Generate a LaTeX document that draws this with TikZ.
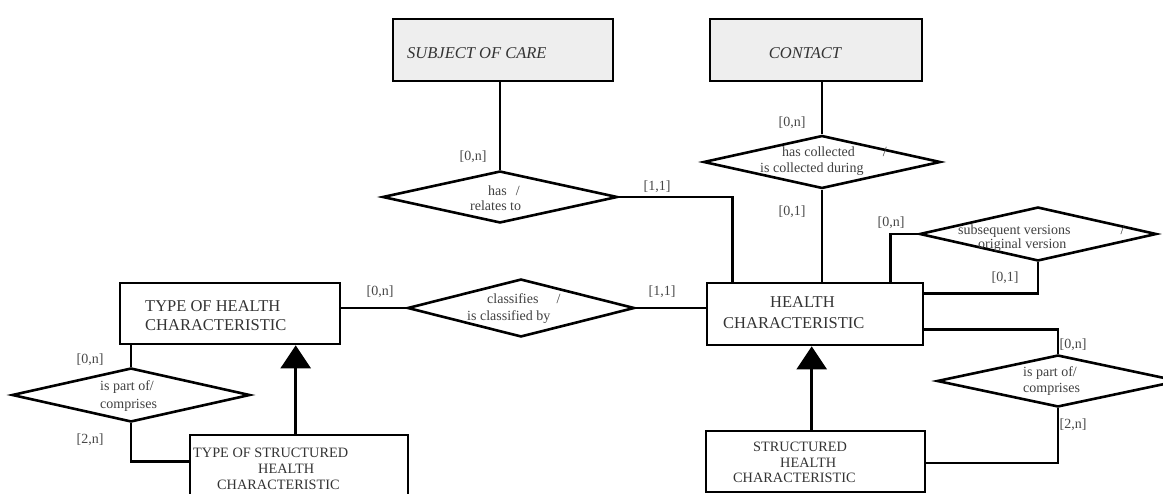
\documentclass[tikz,border=0pt]{standalone}
\usepackage{fontspec}
\setmainfont{Liberation Serif}
\usetikzlibrary{shapes.geometric,arrows.meta}
\tikzset{
  ent/.style={draw, line width=2.6pt, rectangle, inner sep=0pt},
  topent/.style={ent, fill=gray!13},
  rel/.style={draw, line width=2.6pt, diamond, inner sep=0pt, fill=white},
  conn/.style={line width=2.6pt},
  card/.style={font=\fontsize{14}{15}\selectfont, text=black!72, inner sep=0pt},
  rtxt/.style={text=black!75, inner sep=0pt, align=left},
  etxt/.style={text=black!80, inner sep=0pt, align=left},
  isa/.style={line width=2.6pt, -{Triangle[width=30pt,length=23pt]}},
}
\begin{document}
\begin{tikzpicture}[x=1pt,y=-1pt]
\useasboundingbox (0,0) rectangle (1163,494);
\clip (0,0) rectangle (1163,494);

% entities
\node[topent, minimum width=220pt, minimum height=62pt] (soc) at (503,50) {};
\node[topent, minimum width=212pt, minimum height=62pt] (con) at (816,50) {};
\node[ent, minimum width=220pt, minimum height=61pt] (type) at (230,313.5) {};
\node[ent, minimum width=216pt, minimum height=62pt] (hc) at (815,314) {};
\node[ent, minimum width=218pt, minimum height=70pt] (tshc) at (299,470) {};
\node[ent, minimum width=219pt, minimum height=61pt] (shc) at (815.5,461.5) {};

\node[etxt, font=\fontsize{16.5}{19}\selectfont\itshape, anchor=west] (soct) at (407,53) {SUBJECT OF CARE};
\node[etxt, font=\fontsize{16.5}{19}\selectfont\itshape] (cont) at (805,53) {CONTACT};
\node[etxt, font=\fontsize{16.5}{19}\selectfont, anchor=west] (typet) at (145,315.5) {TYPE OF HEALTH\\CHARACTERISTIC};
\node[etxt, font=\fontsize{16.5}{21}\selectfont, anchor=west] (hct) at (723,312.5) {\hspace*{47pt}HEALTH\\CHARACTERISTIC};
\node[etxt, font=\fontsize{14.3}{16}\selectfont, anchor=west] (tshct) at (193,469) {TYPE OF STRUCTURED\\\hspace*{65pt}HEALTH\\\hspace*{24pt}CHARACTERISTIC};
\node[etxt, font=\fontsize{14.3}{15.5}\selectfont, anchor=west] (shct) at (733,462.5) {\hspace*{20pt}STRUCTURED\\\hspace*{47pt}HEALTH\\CHARACTERISTIC};

% relationships
\node[rel, minimum width=235pt, minimum height=52pt] (dhas) at (500,197) {};
\node[rel, minimum width=237pt, minimum height=53pt] (dcol) at (822,162) {};
\node[rel, minimum width=237pt, minimum height=54pt] (dsub) at (1038,234) {};
\node[rel, minimum width=227pt, minimum height=58pt] (dcls) at (521,308) {};
\node[rel, minimum width=238pt, minimum height=54pt] (dp1) at (131,395) {};
\node[rel, minimum width=242pt, minimum height=52pt] (dp2) at (1058,381) {};

\node[rtxt, font=\fontsize{14}{15}\selectfont, anchor=west] (dhast) at (470,198.5) {\hspace*{18pt}has\hspace{9pt}/\\relates to};
\node[rtxt, font=\fontsize{14}{17}\selectfont, anchor=west] (dclst) at (467,308.5) {\hspace*{20pt}classifies\hspace{18pt}/\\is classified by};
\node[rtxt, font=\fontsize{14}{16}\selectfont, anchor=west] (dcolt) at (760,161) {\hspace*{22pt}has collected\hspace{28pt}/\\is collected during};
\node[rtxt, font=\fontsize{14}{14}\selectfont, anchor=west] (dsubt) at (958,238) {subsequent versions\hspace{50pt}/\\\hspace*{20pt}original version};
\node[rtxt, font=\fontsize{14}{18}\selectfont, anchor=west] (dp1t) at (100,396) {is part of/\\comprises};
\node[rtxt, font=\fontsize{14}{16}\selectfont, anchor=west] (dp2t) at (1023,381) {is part of/\\comprises};

% connectors
\draw[conn] (dhas.north) -- (dhas.north |- soc.south);
\draw[conn] (dhas.east) -| ([xshift=27pt]hc.north west);
\draw[conn] (dcol.north) -- (dcol.north |- con.south);
\draw[conn] (dcol.south) -- (dcol.south |- hc.north);
\draw[conn] (dsub.west) -| ([xshift=185pt]hc.north west);
\draw[conn] (dsub.south) |- ([yshift=-12pt]hc.north east);
\draw[conn] ([yshift=-48pt]hc.north east) -| (dp2.north);
\draw[conn] (dp2.south) |- ([yshift=-1.5pt]shc.east);
\draw[conn] (dcls.west) -- (dcls.west -| type.east);
\draw[conn] (dcls.east) -- (dcls.east -| hc.west);
\draw[conn] (dp1.north) -- (dp1.north |- type.south);
\draw[conn] (dp1.south) |- ([yshift=-28pt]tshc.north west);
\draw[isa] ([xshift=107pt]tshc.north west) -- ([xshift=107pt]tshc.north west |- type.south);
\draw[isa] ([xshift=107pt]shc.north west) -- ([xshift=107pt]shc.north west |- hc.south);

% cardinalities
\node[card] (c1) at (473,157) {[0,n]};
\node[card] (c2) at (657,187) {[1,1]};
\node[card] (c3) at (792,123) {[0,n]};
\node[card] (c4) at (792,212) {[0,1]};
\node[card] (c5) at (891,223) {[0,n]};
\node[card] (c6) at (1005,278) {[0,1]};
\node[card] (c7) at (380,292) {[0,n]};
\node[card] (c8) at (662,292) {[1,1]};
\node[card] (c9) at (90,360) {[0,n]};
\node[card] (c10) at (90,440) {[2,n]};
\node[card] (c11) at (1073,345) {[0,n]};
\node[card] (c12) at (1073,425) {[2,n]};
\end{tikzpicture}
\end{document}
